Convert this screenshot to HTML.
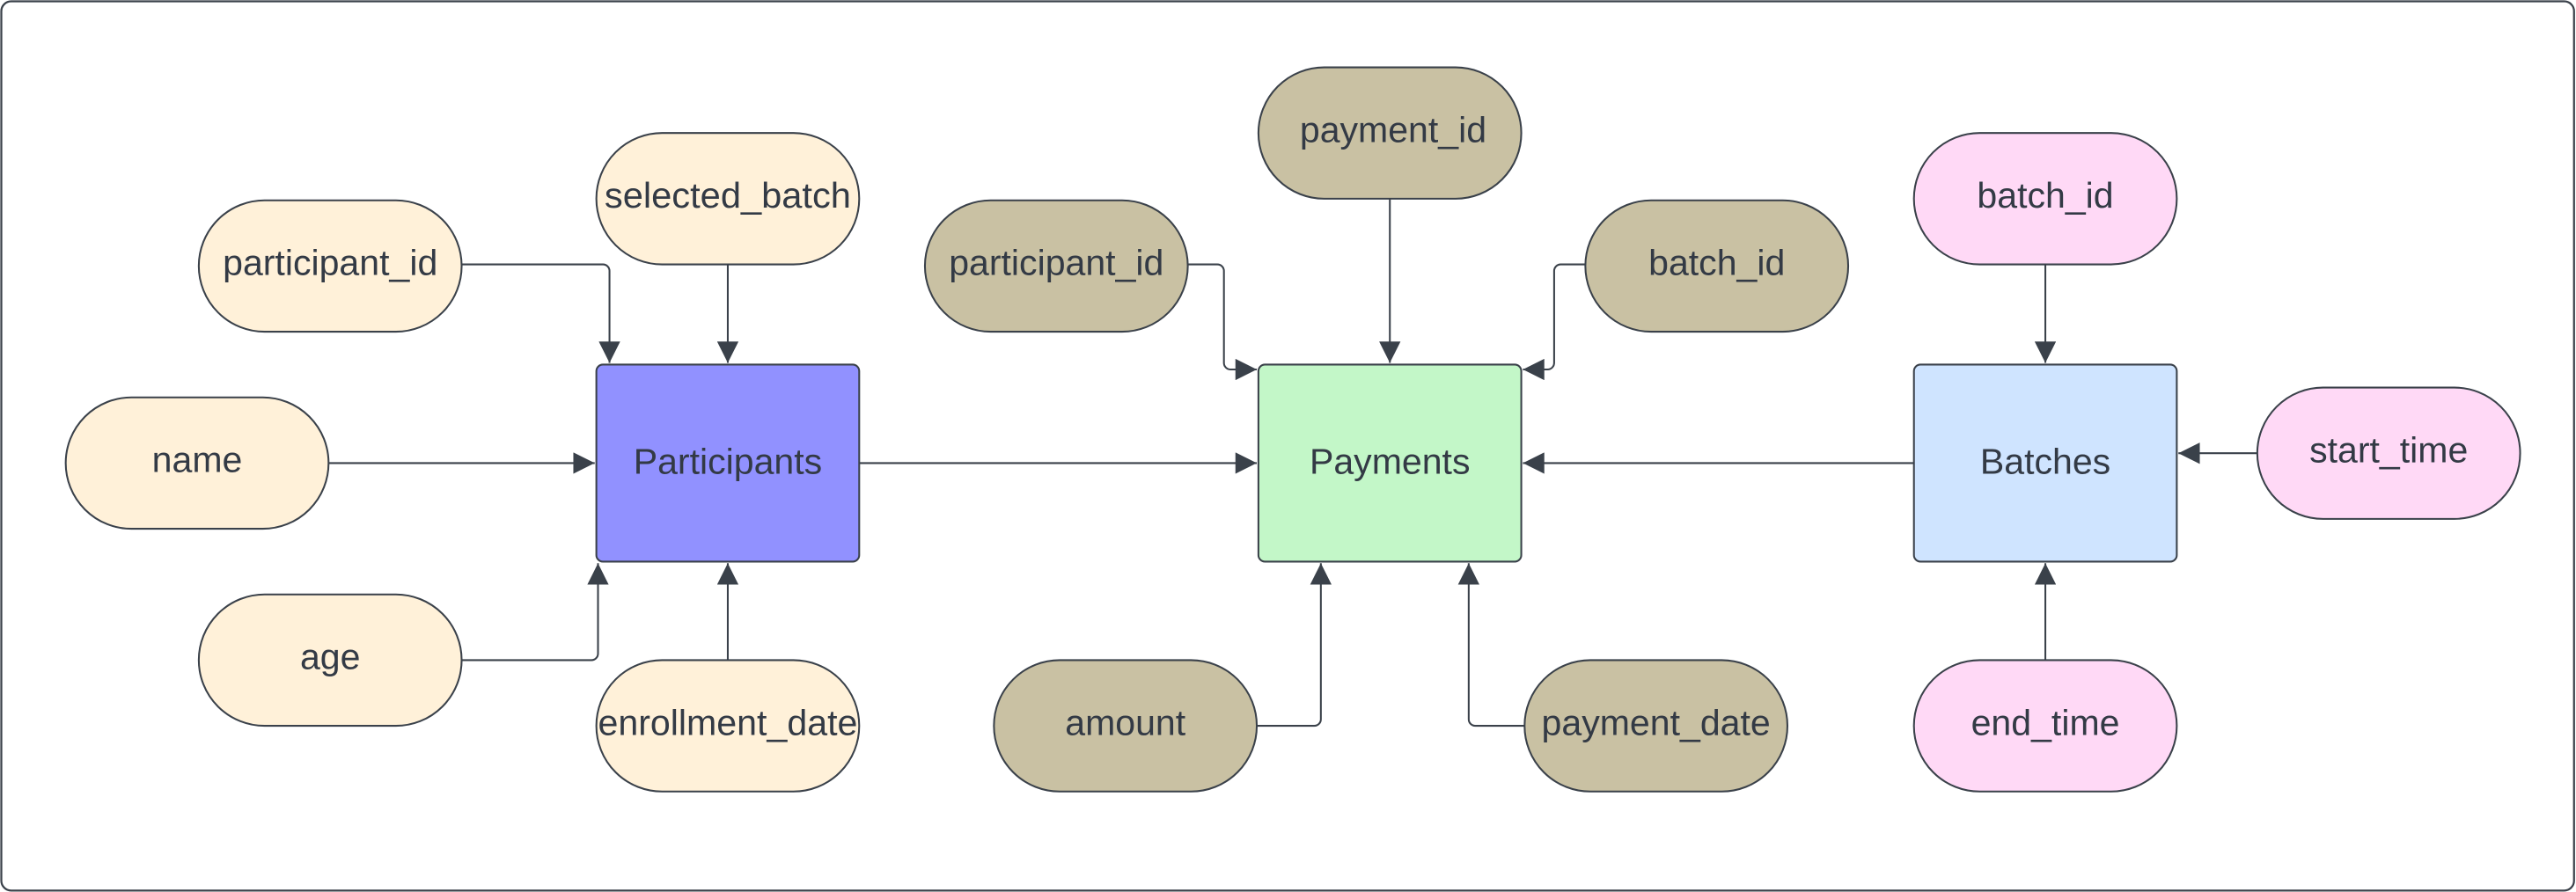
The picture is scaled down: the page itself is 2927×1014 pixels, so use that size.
<!DOCTYPE html>
<html><head><meta charset="utf-8"><style>html,body{margin:0;padding:0;background:#fff}svg{display:block}</style></head>
<body>
<svg width="2927" height="1014" viewBox="0 0 1568 543.2" xmlns="http://www.w3.org/2000/svg" font-family="Liberation Sans, sans-serif">
<defs><marker id="a" viewBox="0 0 10 10" refX="10" refY="5" markerWidth="16" markerHeight="13" markerUnits="userSpaceOnUse" orient="auto"><path d="M0,0L10,5L0,10z" fill="#3a414a"/></marker></defs>
<rect x="0.8" y="0.8" width="1566" height="541.5" rx="6" fill="#fff" stroke="#3a414a" stroke-width="1.2"/>
<g fill="none" stroke="#3a414a" stroke-width="1.1" marker-end="url(#a)">
<path d="M281,161H367a4,4 0 0 1 4,4V221"/>
<path d="M443,161V221"/>
<path d="M200,282H362"/>
<path d="M281,402H360a4,4 0 0 0 4,-4V343"/>
<path d="M443,402V343"/>
<path d="M523,282H765"/>
<path d="M723,161H741a4,4 0 0 1 4,4V221a4,4 0 0 0 4,4H765"/>
<path d="M846,121V221"/>
<path d="M965,161H950a4,4 0 0 0 -4,4V221a4,4 0 0 1 -4,4H927"/>
<path d="M1165,282H927"/>
<path d="M765,442H800a4,4 0 0 0 4,-4V343"/>
<path d="M928,442H898a4,4 0 0 1 -4,-4V343"/>
<path d="M1245,161V221"/>
<path d="M1374,276H1326"/>
<path d="M1245,402V343"/>
</g>
<g stroke="#3a414a" stroke-width="1.1">
<rect x="363" y="222" width="160" height="120" rx="4" fill="#9191ff"/>
<rect x="766" y="222" width="160" height="120" rx="4" fill="#c3f7c8"/>
<rect x="1165" y="222" width="160" height="120" rx="4" fill="#cfe4ff"/>
<g fill="#fff1d9">
<rect x="121" y="122" width="160" height="80" rx="40"/>
<rect x="363" y="81" width="160" height="80" rx="40"/>
<rect x="40" y="242" width="160" height="80" rx="40"/>
<rect x="121" y="362" width="160" height="80" rx="40"/>
<rect x="363" y="402" width="160" height="80" rx="40"/>
</g>
<g fill="#c9c1a3">
<rect x="766" y="41" width="160" height="80" rx="40"/>
<rect x="563" y="122" width="160" height="80" rx="40"/>
<rect x="965" y="122" width="160" height="80" rx="40"/>
<rect x="605" y="402" width="160" height="80" rx="40"/>
<rect x="928" y="402" width="160" height="80" rx="40"/>
</g>
<g fill="#ffd9f6">
<rect x="1165" y="81" width="160" height="80" rx="40"/>
<rect x="1374" y="236" width="160" height="80" rx="40"/>
<rect x="1165" y="402" width="160" height="80" rx="40"/>
</g>
</g>
<g fill="#333a45" font-size="22" text-anchor="middle" dominant-baseline="central">
<text x="443" y="281">Participants</text>
<text x="846" y="281">Payments</text>
<text x="1245" y="281">Batches</text>
<text x="201" y="160">participant_id</text>
<text x="443" y="119" textLength="150" lengthAdjust="spacingAndGlyphs">selected_batch</text>
<text x="120" y="280">name</text>
<text x="201" y="400">age</text>
<text x="443" y="440" textLength="158" lengthAdjust="spacingAndGlyphs">enrollment_date</text>
<text x="848" y="79">payment_id</text>
<text x="643" y="160">participant_id</text>
<text x="1045" y="160">batch_id</text>
<text x="685" y="440">amount</text>
<text x="1008" y="440">payment_date</text>
<text x="1245" y="119">batch_id</text>
<text x="1454" y="274">start_time</text>
<text x="1245" y="440">end_time</text>
</g>
</svg>
</body></html>
